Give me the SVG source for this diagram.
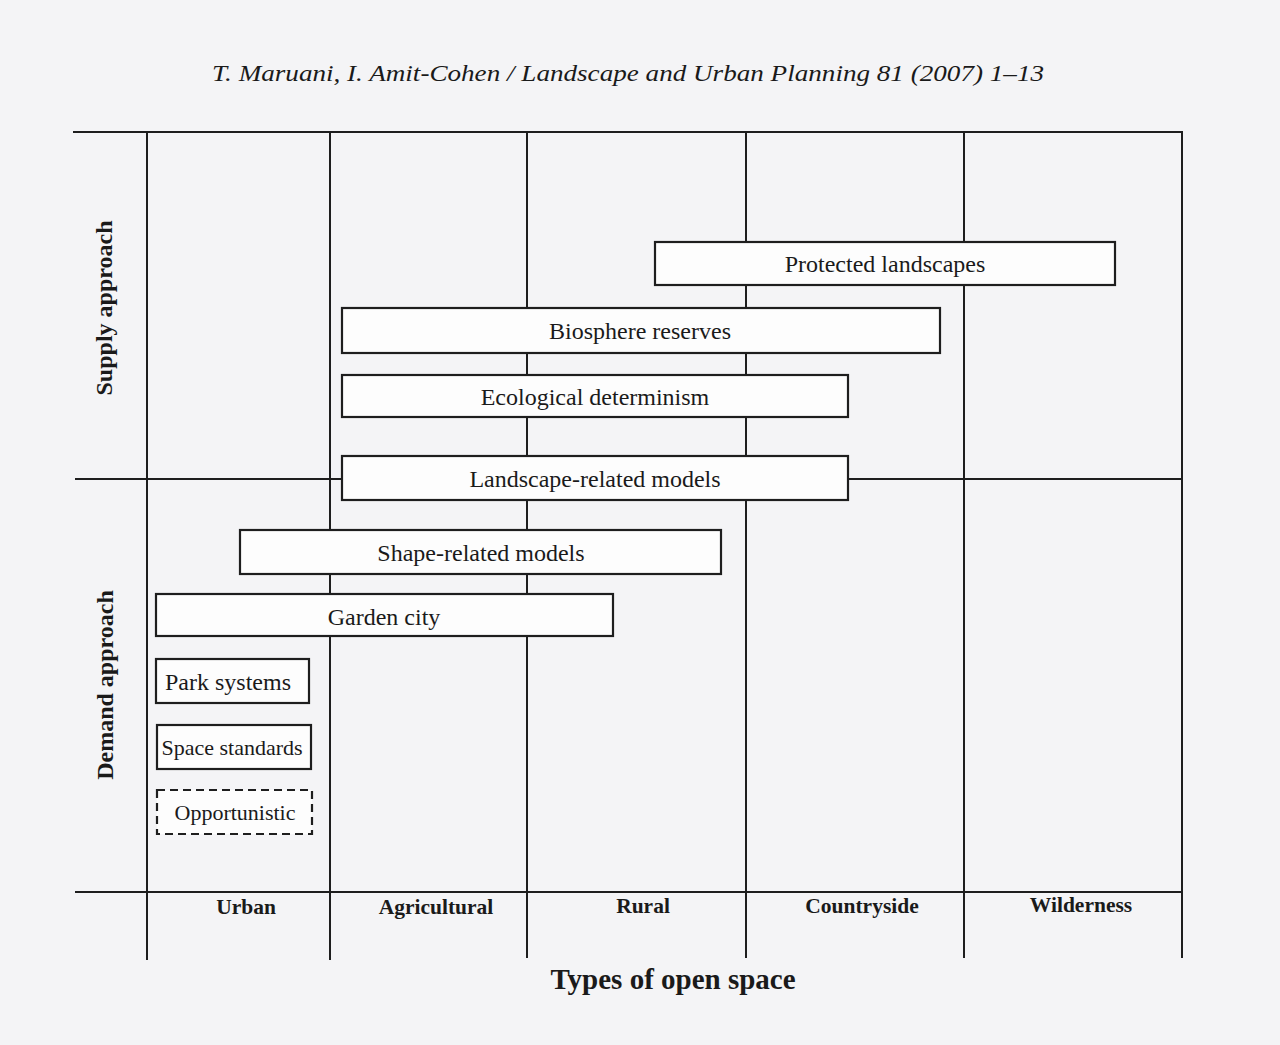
<svg xmlns="http://www.w3.org/2000/svg" width="1280" height="1045" viewBox="0 0 1280 1045">
<style>
.ln{stroke:#1e1e1e;stroke-width:2;fill:none}
.bx{fill:#fdfdfd;stroke:#1e1e1e;stroke-width:2.2}
.dash{stroke-dasharray:8 5}
.lbl{font-family:"Liberation Serif","Times New Roman",serif;font-size:24px;fill:#1a1a1a;text-anchor:middle}
.sm{font-size:22px}
.ax{font-family:"Liberation Serif","Times New Roman",serif;font-size:21.5px;font-weight:bold;fill:#1a1a1a;text-anchor:middle}
.side{font-family:"Liberation Serif","Times New Roman",serif;font-size:24px;font-weight:bold;fill:#1a1a1a;text-anchor:middle}
</style>
<rect width="1280" height="1045" fill="#f4f4f6"/>
<text x="628" y="81" font-family="Liberation Serif, Times New Roman, serif" font-style="italic" font-size="23" fill="#1a1a1a" text-anchor="middle" textLength="832" lengthAdjust="spacingAndGlyphs">T. Maruani, I. Amit-Cohen / Landscape and Urban Planning 81 (2007) 1–13</text>
<g id="grid">
<line class="ln" x1="73" y1="132" x2="1183" y2="132"/>
<line class="ln" x1="75" y1="479" x2="1182" y2="479"/>
<line class="ln" x1="75" y1="892" x2="1182" y2="892"/>
<line class="ln" x1="147" y1="132" x2="147" y2="960"/>
<line class="ln" x1="330" y1="132" x2="330" y2="960"/>
<line class="ln" x1="527" y1="132" x2="527" y2="958"/>
<line class="ln" x1="746" y1="132" x2="746" y2="958"/>
<line class="ln" x1="964" y1="132" x2="964" y2="958"/>
<line class="ln" x1="1182" y1="131" x2="1182" y2="958"/>
</g>
<g id="protected-landscapes"><rect class="bx" x="655" y="242" width="460" height="43"/><text class="lbl" x="885" y="272">Protected landscapes</text></g>
<g id="biosphere-reserves"><rect class="bx" x="342" y="308" width="598" height="45"/><text class="lbl" x="640" y="339">Biosphere reserves</text></g>
<g id="ecological-determinism"><rect class="bx" x="342" y="375" width="506" height="42"/><text class="lbl" x="595" y="405">Ecological determinism</text></g>
<g id="landscape-related-models"><rect class="bx" x="342" y="456" width="506" height="44"/><text class="lbl" x="595" y="487">Landscape-related models</text></g>
<g id="shape-related-models"><rect class="bx" x="240" y="530" width="481" height="44"/><text class="lbl" x="481" y="561">Shape-related models</text></g>
<g id="garden-city"><rect class="bx" x="156" y="594" width="457" height="42"/><text class="lbl" x="384" y="625">Garden city</text></g>
<g id="park-systems"><rect class="bx" x="156" y="659" width="153" height="44"/><text class="lbl" x="228" y="690">Park systems</text></g>
<g id="space-standards"><rect class="bx" x="157" y="725" width="154" height="44"/><text class="lbl sm" x="232" y="755">Space standards</text></g>
<g id="opportunistic"><rect class="bx dash" x="157" y="790" width="155" height="44"/><text class="lbl sm" x="235" y="820">Opportunistic</text></g>
<g id="axis-labels">
<text class="ax" x="246" y="914">Urban</text>
<text class="ax" x="436" y="914">Agricultural</text>
<text class="ax" x="643" y="913">Rural</text>
<text class="ax" x="862" y="913">Countryside</text>
<text class="ax" x="1081" y="912">Wilderness</text>
<text x="673" y="989" font-family="Liberation Serif, Times New Roman, serif" font-weight="bold" font-size="29" fill="#1a1a1a" text-anchor="middle">Types of open space</text>
<text class="side" transform="translate(112,308) rotate(-90)">Supply approach</text>
<text class="side" transform="translate(113,685) rotate(-90)">Demand approach</text>
</g>
</svg>
